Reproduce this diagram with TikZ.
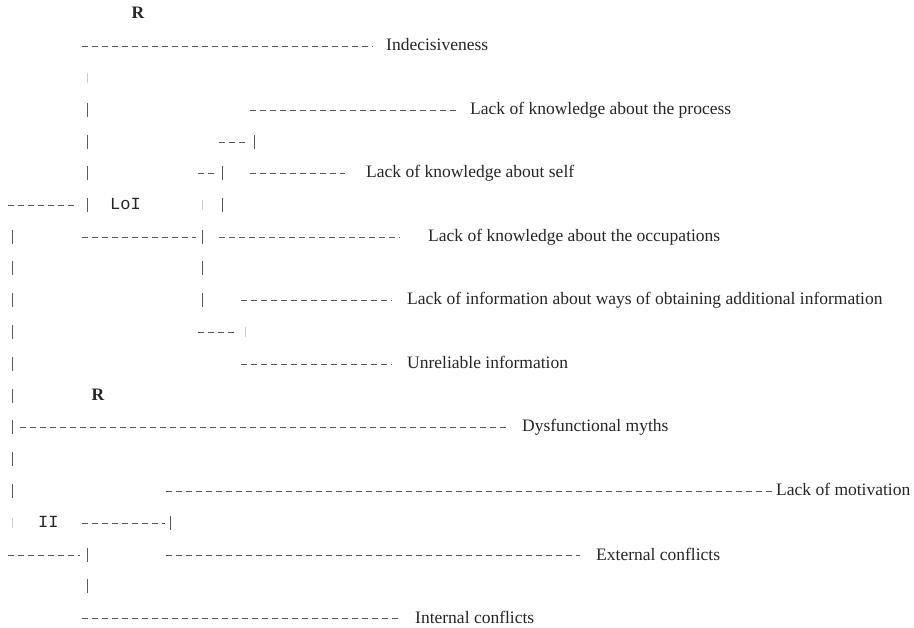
\documentclass[tikz,border=0pt]{standalone}
\usepackage{fontspec}
\setmainfont{Liberation Serif}
\setmonofont{Liberation Mono}

\begin{document}
\begin{tikzpicture}[x=1pt, y=-1pt,
    lbl/.style={anchor=base west, inner sep=0pt, yshift=-5pt, text=black!85, font=\fontsize{17.5}{20}\selectfont},
    tag/.style={lbl, font=\ttfamily\fontsize{17}{20}\selectfont},
    rmark/.style={lbl, anchor=base, font=\bfseries\fontsize{17.5}{20}\selectfont},
    dashline/.style={draw=black!65, line width=0.7pt, dash pattern=on 6pt off 4pt},
    pipe/.style={draw=black!65, line width=0.7pt},
    faint/.style={draw=black!20, line width=0.7pt}]
    \useasboundingbox (0,0) rectangle (914,628);
    % text of the tree, row by row
    \node[rmark] (r1) at (138,14) {R};
    \node[lbl] (indec) at (386,46) {Indecisiveness};
    \node[lbl] (process) at (470,110) {Lack of knowledge about the process};
    \node[lbl] (self) at (366,173) {Lack of knowledge about self};
    \node[tag] (loi) at (110,205) {LoI};
    \node[lbl] (occup) at (428,237) {Lack of knowledge about the occupations};
    \node[lbl] (ways) at (407,300) {Lack of information about ways of obtaining additional information};
    \node[lbl] (unrel) at (407,364) {Unreliable information};
    \node[rmark] (r2) at (98,396) {R};
    \node[lbl] (myths) at (522,427) {Dysfunctional myths};
    \node[lbl] (motiv) at (776,491) {Lack of motivation};
    \node[tag] (ii) at (38,523) {II};
    \node[lbl] (extconf) at (596,555) {External conflicts};
    \node[lbl] (intconf) at (415,618) {Internal conflicts};

    % starts of the dashed branches
    \coordinate (s0) at (82,46);
    \coordinate (s1) at (250,110);
    \coordinate (s2) at (250,173);
    \coordinate (s3) at (219,237);
    \coordinate (s4) at (241,300);
    \coordinate (s5) at (241,364);
    \coordinate (s6) at (20,427);
    \coordinate (s7) at (166,491);
    \coordinate (s8) at (166,555);
    \coordinate (s9) at (82,618);
    \draw[dashline, shorten >=13pt] (s0) -- (s0 -| indec.west);
    \draw[dashline, shorten >=12pt] (s1) -- (s1 -| process.west);
    \draw[dashline, shorten >=21pt] (s2) -- (s2 -| self.west);
    \draw[dashline, shorten >=28pt] (s3) -- (s3 -| occup.west);
    \draw[dashline, shorten >=15pt] (s4) -- (s4 -| ways.west);
    \draw[dashline, shorten >=15pt] (s5) -- (s5 -| unrel.west);
    \draw[dashline, shorten >=12pt] (s6) -- (s6 -| myths.west);
    \draw[dashline, shorten >=3pt] (s7) -- (s7 -| motiv.west);
    \draw[dashline, shorten >=16pt] (s8) -- (s8 -| extconf.west);
    \draw[dashline, shorten >=15pt] (s9) -- (s9 -| intconf.west);

    % short joins into the bars
    \coordinate (j1) at (254,142);
    \coordinate (j2) at (222,173);
    \coordinate (j3) at (87,205);
    \coordinate (j4) at (202,237);
    \coordinate (j5) at (245,332);
    \coordinate (j6) at (170,523);
    \coordinate (j7) at (87,555);
    \draw[dashline] (219,142) -- ([xshift=-7pt]j1);
    \draw[dashline] (198,173) -- ([xshift=-8pt]j2);
    \draw[dashline] (8,205) -- ([xshift=-9pt]j3);
    \draw[dashline] (82,237) -- ([xshift=-6pt]j4);
    \draw[dashline] (198,332) -- ([xshift=-8pt]j5);
    \draw[dashline] (82,523) -- ([xshift=-5pt]j6);
    \draw[dashline] (8,555) -- ([xshift=-7pt]j7);

    % vertical bars
    \foreach \x/\y in {87/110, 87/142, 87/173, 87/205, 87/555, 87/586,
                       254/142, 222/173, 222/205, 202/237, 202/268, 202/300,
                       12/237, 12/268, 12/300, 12/332, 12/364, 12/396,
                       12/427, 12/459, 12/491, 170/523}
        \draw[pipe] (\x,\y-7) -- (\x,\y+7);
    \foreach \x/\y in {87/78, 202/205, 245/332, 12/523}
        \draw[faint] (\x,\y-5) -- (\x,\y+5);
\end{tikzpicture}
\end{document}
